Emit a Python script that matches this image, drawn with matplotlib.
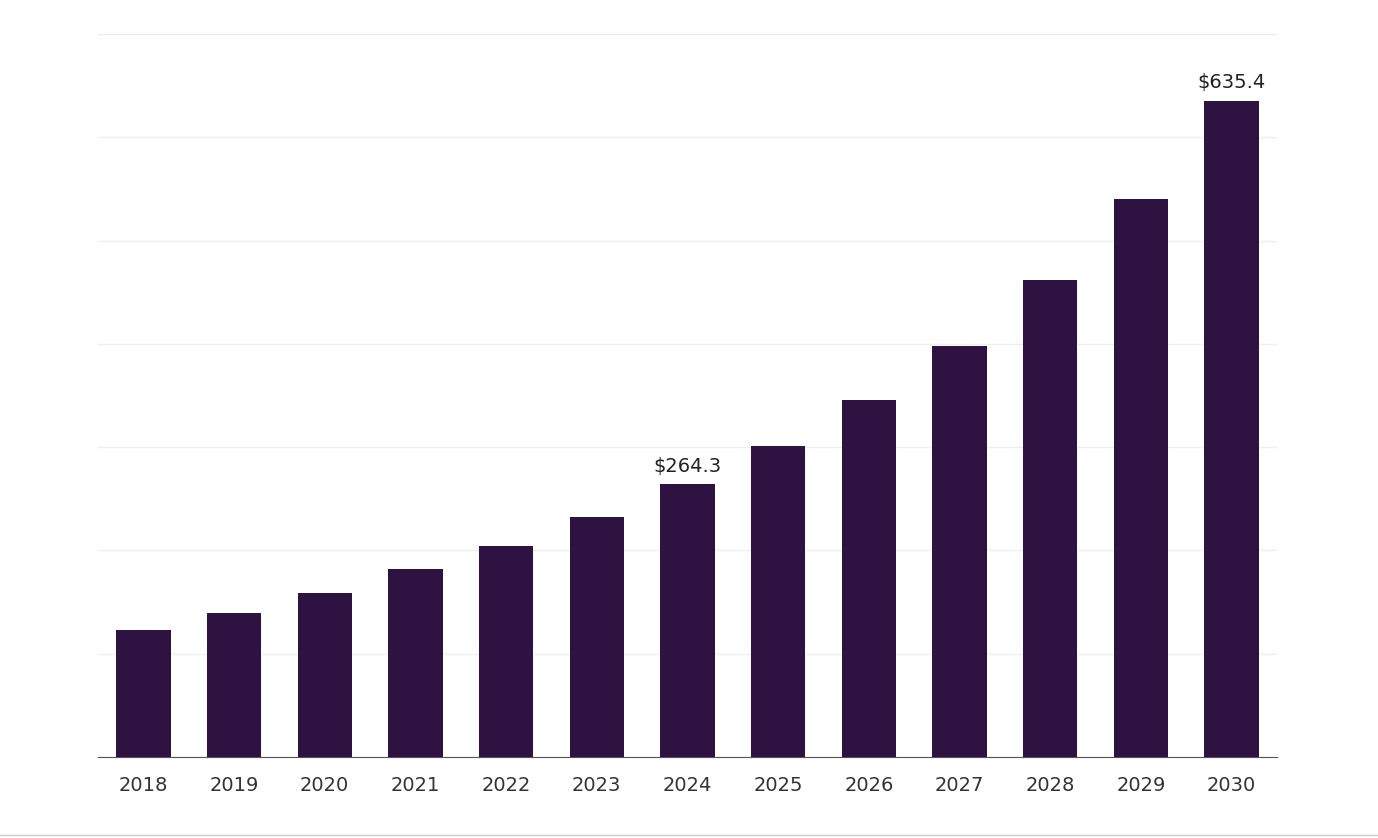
import matplotlib.pyplot as plt

years = ['2018', '2019', '2020', '2021', '2022', '2023', '2024',
         '2025', '2026', '2027', '2028', '2029', '2030']
values = [123.3, 139.8, 159.2, 181.6, 203.9, 232.0, 264.3,
          301.0, 345.6, 398.0, 462.0, 539.8, 635.4]
labelled = {'2024': '$264.3', '2030': '$635.4'}

fig = plt.figure(figsize=(13.78, 8.38), dpi=100)
ax = fig.add_axes([98 / 1378, 1 - 757 / 838, (1277 - 98) / 1378, (757 - 34) / 838])

x = range(len(years))
bars = ax.bar(x, values, width=0.6, color='#2e1342', zorder=3)
for i, y in enumerate(years):
    if y in labelled:
        ax.text(i, values[i] + 8, labelled[y], ha='center', va='bottom',
                fontsize=14, color='#222222')

ax.set_xlim(-0.5, 12.5)
ax.set_ylim(0, 700)
ax.set_yticks(range(0, 701, 100))
ax.set_yticklabels([])
ax.tick_params(axis='y', length=0)
ax.grid(axis='y', color='#eeeeee', linewidth=1, zorder=0)
ax.set_xticks(list(x))
ax.set_xticklabels(years, fontsize=14, color='#333333')
ax.tick_params(axis='x', length=0, pad=14)
for s in ['top', 'right', 'left']:
    ax.spines[s].set_visible(False)
ax.spines['bottom'].set_color('#555555')

fig.add_artist(plt.Line2D([0, 1], [1 - 835 / 838] * 2, color='#cccccc', linewidth=1))
fig.savefig('out.png', dpi=100)
